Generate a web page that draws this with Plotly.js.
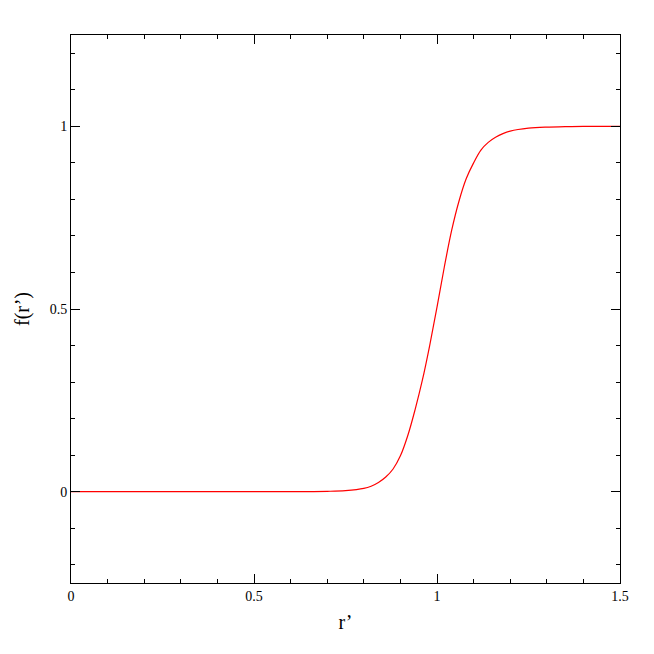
<!DOCTYPE html>
<html>
<head>
<meta charset="utf-8">
<script src="https://cdn.plot.ly/plotly-3.0.1.min.js"></script>
<style>
  html, body { margin: 0; padding: 0; background: #fff; }
  #chart { width: 654px; height: 654px; }
</style>
</head>
<body>
<div id="chart"></div>
<script>
// values
const R_PRIME = [0, 0.3, 0.5, 0.6, 0.7, 0.75, 0.8, 0.82, 0.84, 0.86, 0.88, 0.9, 0.92, 0.94, 0.96, 0.98,
  1.0, 1.02, 1.04, 1.06, 1.08, 1.1, 1.12, 1.14, 1.16, 1.18, 1.2, 1.25, 1.3, 1.35, 1.4, 1.5];
const F_R = [0, 0, 0, 0, 0.001, 0.003, 0.009, 0.015, 0.025, 0.040, 0.062, 0.098, 0.153, 0.224, 0.305, 0.40,
  0.505, 0.615, 0.715, 0.795, 0.857, 0.90, 0.935, 0.956, 0.970, 0.980, 0.987, 0.995, 0.998, 0.999, 1.0, 1.0];

const X_TICKS = [0, 0.5, 1, 1.5];
const X_TICK_TEXT = ["0", "0.5", "1", "1.5"];
const Y_TICKS = [0, 0.5, 1];
const Y_TICK_TEXT = ["0", "0.5", "1"];

const FONT_FAMILY = "'Liberation Serif', 'DejaVu Serif', serif";

function axis(range, vals, text, title) {
  return {
    range: range,
    tickmode: "array",
    tickvals: vals,
    ticktext: text,
    ticks: "inside",
    ticklen: 9,
    tickwidth: 1,
    tickcolor: "#000",
    minor: { dtick: 0.1, ticks: "inside", ticklen: 4, tickwidth: 1, tickcolor: "#000" },
    showline: true,
    linecolor: "#000",
    linewidth: 1,
    mirror: "allticks",
    showgrid: false,
    zeroline: false,
    tickfont: { family: FONT_FAMILY, size: 14, color: "#000" },
    title: { text: title, font: { family: FONT_FAMILY, size: 20, color: "#000" } },
  };
}

const trace = {
  type: "scatter",
  mode: "lines",
  x: R_PRIME,
  y: F_R,
  line: { color: "#ff0000", width: 1.2, shape: "spline", smoothing: 1 },
  hoverinfo: "skip",
};

const layout = {
  width: 654,
  height: 654,
  margin: { l: 71, r: 34, t: 35, b: 71 },
  paper_bgcolor: "#fff",
  plot_bgcolor: "#fff",
  showlegend: false,
  xaxis: axis([0, 1.5], X_TICKS, X_TICK_TEXT, "r’"),
  yaxis: axis([-0.25, 1.25], Y_TICKS, Y_TICK_TEXT, "f(r’)"),
};
layout.xaxis.title.standoff = 12;
layout.yaxis.title.standoff = 14;

Plotly.newPlot("chart", [trace], layout, { displayModeBar: false, staticPlot: true });
</script>
</body>
</html>
